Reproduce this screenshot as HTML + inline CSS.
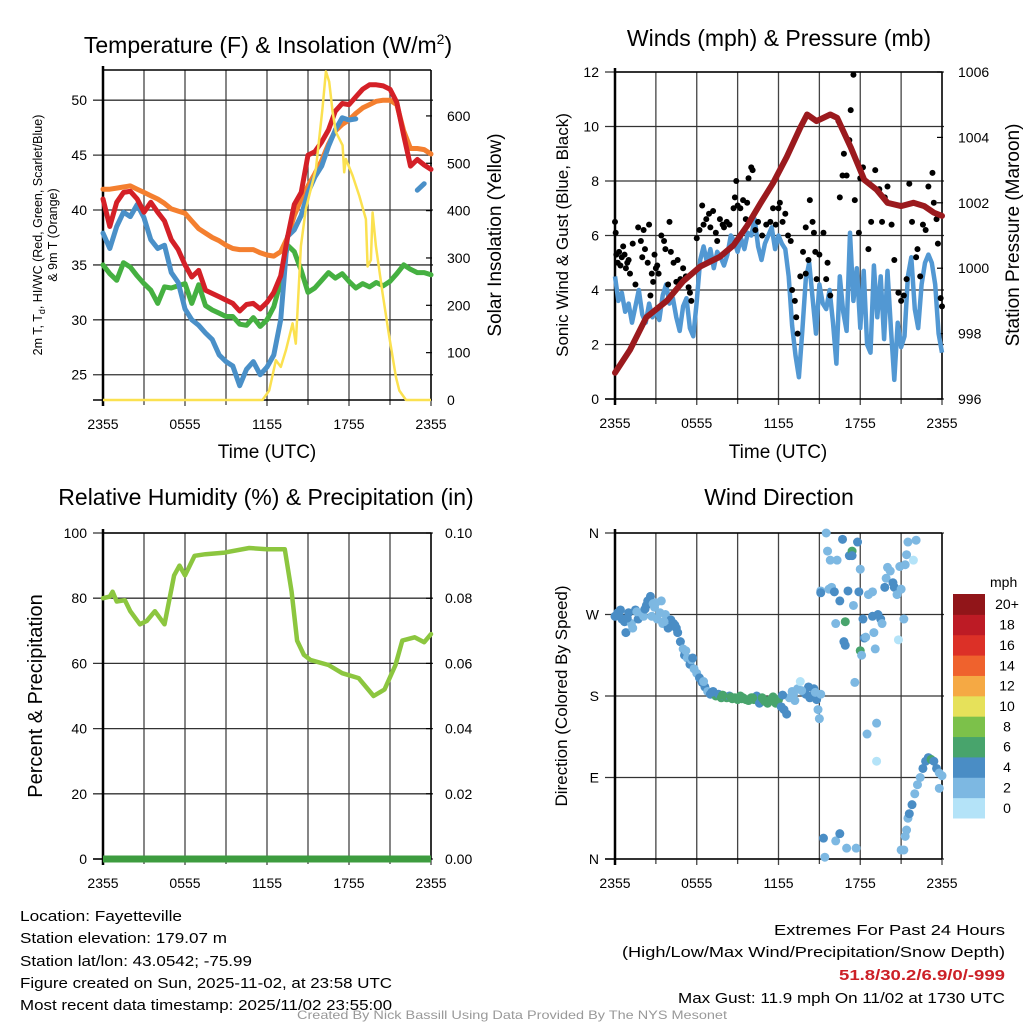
<!DOCTYPE html>
<html><head><meta charset="utf-8"><style>
html,body{margin:0;padding:0;background:#fff;}
svg{display:block;font-family:"Liberation Sans",Arial,sans-serif;}
</style></head><body>
<svg id="fig" width="1024" height="1024" viewBox="0 0 1024 1024" xmlns="http://www.w3.org/2000/svg">
<rect width="1024" height="1024" fill="#fff"/>
<text x="268" y="53" font-size="23" text-anchor="middle">Temperature (F) &amp; Insolation (W/m<tspan dy="-9" font-size="14">2</tspan><tspan dy="9">)</tspan></text>
<text x="779" y="46" font-size="23" text-anchor="middle">Winds (mph) &amp; Pressure (mb)</text>
<text x="266" y="505" font-size="23" text-anchor="middle">Relative Humidity (%) &amp; Precipitation (in)</text>
<text x="779" y="505" font-size="23" text-anchor="middle">Wind Direction</text>

<text transform="translate(42,235) rotate(-90)" font-size="12.5" text-anchor="middle">2m T, T<tspan font-size="9" dy="3">d</tspan><tspan dy="-3">, HI/WC (Red, Green, Scarlet/Blue)</tspan></text>
<text transform="translate(57,235) rotate(-90)" font-size="12.5" text-anchor="middle">&amp; 9m T (Orange)</text>
<text transform="translate(501,235) rotate(-90)" font-size="19" text-anchor="middle">Solar Insolation (Yellow)</text>
<text transform="translate(568,235) rotate(-90)" font-size="17" text-anchor="middle">Sonic Wind &amp; Gust (Blue, Black)</text>
<text transform="translate(1019,235) rotate(-90)" font-size="19" text-anchor="middle">Station Pressure (Maroon)</text>
<text transform="translate(42,696) rotate(-90)" font-size="20" text-anchor="middle">Percent &amp; Precipitation</text>
<text transform="translate(567,696) rotate(-90)" font-size="17" text-anchor="middle">Direction (Colored By Speed)</text>
<text x="267" y="458" font-size="19" text-anchor="middle">Time (UTC)</text>
<text x="778" y="458" font-size="19" text-anchor="middle">Time (UTC)</text>

<g id="panels"></g>

<g font-size="15">
<text x="20" y="921" textLength="162" lengthAdjust="spacingAndGlyphs">Location: Fayetteville</text>
<text x="20" y="943" textLength="207" lengthAdjust="spacingAndGlyphs">Station elevation: 179.07 m</text>
<text x="20" y="966" textLength="232" lengthAdjust="spacingAndGlyphs">Station lat/lon: 43.0542; -75.99</text>
<text x="20" y="988" textLength="372" lengthAdjust="spacingAndGlyphs">Figure created on Sun, 2025-11-02, at 23:58 UTC</text>
<text x="20" y="1010" textLength="372" lengthAdjust="spacingAndGlyphs">Most recent data timestamp: 2025/11/02 23:55:00</text>
</g>
<g font-size="15">
<text x="1005" y="935" text-anchor="end" textLength="231" lengthAdjust="spacingAndGlyphs">Extremes For Past 24 Hours</text>
<text x="1005" y="957" text-anchor="end" textLength="383" lengthAdjust="spacingAndGlyphs">(High/Low/Max Wind/Precipitation/Snow Depth)</text>
<text x="1005" y="980" text-anchor="end" fill="#cc2027" font-weight="bold" textLength="166" lengthAdjust="spacingAndGlyphs">51.8/30.2/6.9/0/-999</text>
<text x="1005" y="1003" text-anchor="end" textLength="327" lengthAdjust="spacingAndGlyphs">Max Gust: 11.9 mph On 11/02 at 1730 UTC</text>
</g>
<text x="512" y="1019" font-size="12" fill="#999" text-anchor="middle" textLength="430" lengthAdjust="spacingAndGlyphs">Created By Nick Bassill Using Data Provided By The NYS Mesonet</text>
</svg>
<script>
// ---------- Temperature panel data (half-hourly, hours since 2355) ----------
const tempRed = [41.0,38.5,40.7,41.6,41.7,41.0,39.8,40.7,39.8,39.0,37.3,36.4,35.0,33.9,34.5,32.7,32.4,32.1,31.8,31.5,30.8,31.4,31.5,31.0,31.6,32.5,34.0,37.5,40.5,41.6,45.0,45.3,46.2,47.3,49.0,49.7,49.6,50.3,51.0,51.4,51.4,51.3,51.0,49.8,46.8,44.0,44.6,44.1,43.7];
const tempOrange = [41.9,41.9,42.0,42.1,42.2,41.9,41.6,41.3,41.0,40.6,40.1,39.9,39.7,39.0,38.3,37.9,37.5,37.2,36.8,36.5,36.4,36.4,36.4,36.1,35.9,35.8,36.2,37.5,39.5,41.0,42.2,43.3,44.5,46.0,47.2,47.8,48.2,48.8,49.3,49.6,49.9,50.0,50.0,49.6,47.2,45.6,45.6,45.5,45.1];
const tempBlue = [37.9,36.5,38.5,39.8,39.4,40.5,39.3,37.3,36.5,36.8,34.3,33.4,31.0,30.0,29.5,28.8,28.2,26.8,26.2,25.8,24.0,25.5,26.2,25.0,25.7,26.8,30.0,37.6,38.2,39.5,41.6,43.0,44.0,45.8,47.3,48.4,48.2,48.3,null,null,null,null,null,null,46.5,null,41.8,42.4,null];
const tempGreen = [35.0,34.2,33.6,35.2,34.8,34.0,33.3,32.7,31.5,33.0,32.9,33.1,33.3,31.5,33.2,31.3,30.9,30.6,30.3,30.3,29.6,29.5,30.2,29.4,30.0,31.2,33.5,36.8,36.2,34.5,32.5,32.9,33.6,34.3,33.8,34.2,33.5,32.9,33.3,33.0,33.4,33.1,33.5,34.2,35.0,34.6,34.3,34.3,34.1];
const solarHours = [0,11.67,12.16,12.65,13.01,13.38,13.87,14.11,14.48,14.84,15.58,16.06,16.31,16.55,16.80,17.04,17.53,17.65,17.77,18.26,18.75,19.24,19.36,19.60,19.73,19.97,20.46,20.95,21.44,21.68,22.17,24];
const solarValues = [0,0,20,84,70,105,162,119,325,403,488,616,694,672,609,566,538,481,509,474,431,382,282,296,396,325,225,133,48,20,0,0];
const tempTicks = [25,30,35,40,45,50];
const solarTicks = [0,100,200,300,400,500,600];
const timeTickHours = [0,6,12,18,24];
const timeTickLabels = ["2355","0555","1155","1755","2355"];

// ---------- Winds panel data ----------
const pressHours = [0,1.1,2.3,3.8,5,6.25,7.7,8.7,9.7,10.7,11.6,12.6,13.6,14.1,14.8,15.8,16.3,17.3,18.3,19.2,20,21,21.9,22.7,23.4,24];
const pressValues = [996.8,997.5,998.5,999.0,999.6,1000.05,1000.35,1000.7,1001.3,1002.0,1002.6,1003.4,1004.3,1004.7,1004.5,1004.7,1004.6,1003.7,1002.7,1002.4,1002.0,1001.9,1002.0,1001.9,1001.7,1001.6];
// sonic wind, quarter-hourly
const windSpeeds = [4.5,3.6,3.9,3.2,3.5,2.8,3.4,4.0,3.1,2.8,3.5,3.0,3.3,2.9,3.8,4.2,3.5,3.7,3.0,2.5,3.4,3.7,2.6,2.3,3.6,5.1,5.6,5.0,5.5,4.8,5.4,5.2,4.9,5.3,6.0,5.8,5.4,5.9,5.5,6.1,6.0,6.6,5.6,5.1,5.7,6.0,6.3,5.5,6.0,5.7,5.5,4.5,2.7,1.6,0.8,2.5,4.4,5.0,3.7,2.4,4.2,3.5,3.3,4.0,2.8,1.3,4.5,3.2,2.5,6.1,3.6,4.8,2.6,4.7,2.0,1.7,4.9,3.0,4.5,2.2,4.7,2.6,0.7,2.8,1.9,2.3,4.5,5.2,3.3,2.6,4.2,5.0,5.3,5.0,4.2,2.4,1.7];
const gustHours = [0,0.05,0.1,0.2,0.3,0.4,0.5,0.6,0.7,0.8,0.9,1.0,1.1,1.3,1.5,1.7,1.9,2.0,2.1,2.2,2.4,2.5,2.6,2.7,2.8,2.9,3.0,3.1,3.2,3.4,3.6,3.7,3.9,4.0,4.1,4.3,4.5,4.6,4.8,5.0,5.2,5.4,5.5,5.6,6.0,6.2,6.4,6.5,6.7,6.9,7.0,7.2,7.4,7.5,7.7,7.9,8.0,8.2,8.4,8.7,8.8,8.9,9.0,9.2,9.4,9.6,9.7,9.8,10.0,10.1,10.3,10.5,10.8,11.1,11.4,11.6,11.8,12.0,12.1,12.3,12.5,12.7,12.9,13.0,13.2,13.3,13.4,13.6,13.8,14.0,14.0,14.2,14.3,14.5,14.6,14.7,14.8,15.0,15.3,15.5,15.6,15.8,16.4,16.5,16.7,16.8,17.0,17.2,17.3,17.5,17.6,17.9,18.0,18.2,18.6,18.8,19.1,19.4,19.6,19.8,20.0,20.3,20.5,20.8,21.0,21.2,21.4,21.6,21.8,22.1,22.2,22.4,22.6,22.8,23.0,23.3,23.4,23.6,23.7,23.9,24.0];
const gustSpeeds = [6.5,6.1,5.3,5.0,5.4,4.9,5.2,5.6,5.3,4.8,5.0,5.1,4.6,5.7,4.2,6.3,5.8,5.2,6.2,5.5,5.0,6.4,3.8,4.6,4.3,5.3,4.8,4.9,4.6,6.0,5.8,5.5,4.2,6.5,5.4,5.0,4.3,5.1,4.4,4.8,4.5,4.1,3.9,3.6,5.9,6.2,7.1,6.4,6.6,6.8,6.3,6.9,6.1,5.8,6.6,6.4,6.3,6.5,6.4,7.0,7.4,8.0,7.1,7.0,7.3,6.6,7.2,8.1,8.5,8.4,6.2,6.5,6.0,6.4,6.5,7.0,6.4,7.0,7.2,6.5,6.8,6.0,5.8,4.0,3.6,3.0,2.4,4.5,5.4,6.3,4.6,5.1,7.3,6.5,6.1,5.4,4.4,5.3,6.1,4.4,5.0,3.8,10.2,7.4,8.2,9.0,8.2,9.5,10.6,11.9,7.3,6.1,8.1,8.5,5.5,6.5,8.4,7.7,6.5,7.4,7.8,6.4,5.1,3.9,3.6,3.8,4.4,7.9,6.5,5.2,5.5,4.5,6.4,6.2,7.8,8.3,7.2,6.6,5.7,3.7,3.4];
const windTicks = [0,2,4,6,8,10,12];
const pressTicks = [996,998,1000,1002,1004,1006];

// ---------- Humidity panel data ----------
const rhHours = [0,0.5,0.7,1,1.6,2,2.7,3.2,3.8,4.5,5.2,5.6,6,6.7,7.5,8.9,10.7,12,13.3,13.8,14.2,14.7,15.2,16.5,17.5,18.7,19.8,20.6,21.4,21.9,22.8,23.5,24];
const rhValues = [80,80.5,82,79,79.4,76,72,73,76,72,87,90,87,93,93.5,94,95.4,95,95,82,67,62.6,61,59.5,57,55.5,50,52,59.5,67,68,66.5,69];
const precipHours = [0,24];
const precipValues = [0,0];
const rhTicks = [0,20,40,60,80,100];
const precipTicks = ["0.00","0.02","0.04","0.06","0.08","0.10"];

// ---------- Wind direction data ----------
const dirHours = [0.0,0.2,0.4,0.5,0.7,0.8,1.0,1.2,1.3,1.5,1.7,1.9,2.1,2.3,2.4,2.6,2.8,2.9,3.1,3.3,3.4,3.5,3.7,3.9,4.1,4.3,4.5,4.6,4.8,5.0,5.1,5.3,5.5,5.6,5.8,6.0,6.2,6.4,6.6,6.8,7.0,7.2,7.4,7.6,7.8,8.0,8.2,8.4,8.6,8.8,9.0,9.2,9.4,9.6,9.8,10.0,10.2,10.4,10.6,10.8,11.0,11.2,11.4,11.6,11.8,12.0,12.2,12.4,12.6,12.8,13.0,13.2,13.4,13.6,13.8,14.0,14.2,14.4,14.6,14.8,14.9,15.0,15.1,15.1,15.1,15.3,15.4,15.5,15.6,15.7,15.8,15.9,16.1,16.2,16.2,16.3,16.5,16.5,16.7,16.8,16.9,16.9,17.0,17.1,17.2,17.4,17.4,17.5,17.6,17.7,17.8,17.9,18.0,18.0,18.1,18.2,18.3,18.4,18.5,18.6,18.9,18.9,19.0,19.1,19.2,19.2,19.3,19.5,19.6,19.8,19.9,20.0,20.2,20.4,20.5,20.7,20.8,21.0,21.2,21.3,21.4,21.5,20.9,21.0,21.2,21.3,21.4,21.5,21.6,21.8,22.0,22.2,22.4,22.6,22.8,23.0,23.2,23.4,23.6,23.8,24.0,23.8,22.1,21.9,0.3,0.9,1.6,2.2,2.7,3.0,3.6,4.4,5.2,5.7,6.5,7.1,7.9,8.5,9.3,10.1,10.9,11.5,12.3,13.1,13.7,14.3,14.7];
const dirDegrees = [268,272,275,265,262,250,272,260,255,275,265,272,268,280,285,290,282,278,265,272,285,260,270,255,264,260,255,250,240,232,225,222,215,220,210,205,200,195,190,185,182,185,180,182,178,180,178,180,177,178,176,180,178,176,175,178,176,180,172,178,174,172,176,179,172,176,168,165,160,178,185,175,188,196,185,182,190,180,188,176,165,155,182,296,294,23,2,360,340,298,330,300,295,20,260,330,28,285,353,240,236,262,12,296,335,340,335,280,195,12,350,295,320,230,225,265,244,245,138,292,295,268,250,232,150,108,270,265,260,300,310,322,318,305,300,292,242,298,265,325,336,350,323,10,10,25,32,45,50,60,72,82,90,100,108,112,110,108,100,95,92,78,352,330,270,266,273,276,268,283,262,258,230,222,196,184,181,179,177,178,176,175,181,182,186,178,184];
const dirSpeeds = [4,4,4,4,4,4,4,3,3,4,4,3,3,4,4,4,3,3,3,3,3,3,3,4,4,4,4,4,4,3,4,3,4,3,3,3,4,4,4,3,4,4,6,4,6,4,6,4,6,6,6,6,6,6,6,6,6,4,4,6,6,6,6,6,6,6,4,4,4,3,3,3,3,1,3,4,4,4,4,4,3,3,3,3,4,4,3,3,3,3,3,2,4,3,3,3,4,4,4,4,4,6,3,4,4,6,4,3,3,3,4,4,3,6,3,4,4,3,3,3,3,4,3,3,3,1,4,4,3,4,3,3,3,4,4,3,1,3,3,3,3,3,3,3,3,3,3,3,4,4,3,3,3,4,4,4,6,4,4,3,3,3,3,1,4,4,3,4,3,3,3,4,3,4,3,4,6,6,6,6,6,6,4,3,3,4,3];
const dirTickDegrees = [0,90,180,270,360];
const dirTickLabels = ["N","E","S","W","N"];
const speedBinLabels = ["0","2","4","6","8","10","12","14","16","18","20+"];
const speedBinColors = ["#b4e3f8","#7db8e2","#4a8dc5","#48a46c","#7cc14a","#e6e15a","#f5a944","#ef622d","#dc3027","#bd1b25","#911519"];

const NS = "http://www.w3.org/2000/svg";
const root = document.getElementById('panels');
function mk(tag, attrs, parent) {
  const e = document.createElementNS(NS, tag);
  for (const k in attrs) e.setAttribute(k, attrs[k]);
  (parent || root).appendChild(e);
  return e;
}
function linScale(d0, d1, r0, r1) { return v => r0 + (v - d0) / (d1 - d0) * (r1 - r0); }

function panelFrame(p, name) {
  const g = mk('g', {});
  
  
  for (let h = 0; h <= 24; h += 3) {
    const x = p.x(h);
    const l = mk('line', {x1: x, x2: x, y1: p.top, y2: p.bot + (h % 6 === 0 ? 6 : 5), stroke: '#444', 'stroke-width': 1.3}, g);
    
    
  }
  timeTickHours.forEach((h, i) => {
    const t = mk('text', {x: p.x(h), y: p.bot + 29, 'font-size': 14, 'text-anchor': 'middle'}, g);
    t.textContent = timeTickLabels[i];
    
    
  });
  return g;
}
function hgrid(p, g, vals, yFn, labels, name) {
  vals.forEach((v, i) => {
    const y = yFn(v);
    const l = mk('line', {x1: p.x0 - 10, x2: p.x1 + 2, y1: y, y2: y, stroke: '#333', 'stroke-width': 1.3}, g);
    
    
    const t = mk('text', {x: p.x0 - 16, y: y + 5, 'font-size': 14, 'text-anchor': 'end'}, g);
    t.textContent = labels ? labels[i] : v;
    
    
  });
}
function rightTicks(p, g, vals, yFn, labels, name, dx) {
  vals.forEach((v, i) => {
    const y = yFn(v);
    mk('line', {x1: p.x1 - 5, x2: p.x1 + 1, y1: y, y2: y, stroke: '#000', 'stroke-width': 1.2}, g);
    const t = mk('text', {x: p.x1 + (dx || 16), y: y + 5, 'font-size': 14, 'text-anchor': 'start'}, g);
    t.textContent = labels ? labels[i] : v;
    
    
  });
}
function axesLines(p, g, name) {
  const a = mk('line', {x1: p.x0, x2: p.x0, y1: p.top - 4, y2: p.bot + 6, stroke: '#000', 'stroke-width': 2.5}, g);
  
  
  mk('line', {x1: p.x1, x2: p.x1, y1: p.top, y2: p.bot, stroke: '#000', 'stroke-width': 1.5}, g);
  mk('line', {x1: p.x0, x2: p.x1, y1: p.top, y2: p.top, stroke: '#000', 'stroke-width': 1.5}, g);
  mk('line', {x1: p.x0 - 10, x2: p.x1, y1: p.bot, y2: p.bot, stroke: '#000', 'stroke-width': 1.5}, g);
}
function pathFrom(xs, ys, xf, yf) {
  let d = '', pen = false;
  for (let i = 0; i < xs.length; i++) {
    if (ys[i] === null) { pen = false; continue; }
    d += (pen ? 'L' : 'M') + xf(xs[i]).toFixed(1) + ' ' + yf(ys[i]).toFixed(1);
    pen = true;
  }
  return d;
}

// ===== Panel 1: Temperature =====
(function () {
  const p = {x0: 103, x1: 431, top: 70, bot: 400};
  p.x = linScale(0, 24, p.x0, p.x1);
  const yT = linScale(22.7, 52.75, p.bot, p.top);
  const yS = linScale(0, 697, p.bot, p.top);
  const g = panelFrame(p, 'temperature');
  hgrid(p, g, tempTicks, yT, null, 'temperature');
  rightTicks(p, g, solarTicks, yS, null, 'solar', 16);
  const half = tempRed.map((_, i) => i * 0.5);
  const series = [
    [tempOrange, '#f47f2f', 'orange-9m-temp-line'],
    [tempGreen, '#45b041', 'green-dewpoint-line'],
    [tempBlue, '#4a90c8', 'blue-windchill-line'],
    [tempRed, '#d42027', 'red-2m-temp-line']
  ];
  series.forEach(s => {
    const e = mk('path', {d: pathFrom(half, s[0], p.x, yT), fill: 'none', stroke: s[1], 'stroke-width': 5, 'stroke-linejoin': 'round', 'stroke-linecap': 'round'});
    
    
  });
  const sl = mk('path', {d: pathFrom(solarHours, solarValues, p.x, yS), fill: 'none', stroke: '#fbe150', 'stroke-width': 2.5, 'stroke-linejoin': 'round'});
  
  
  axesLines(p, g, 'temperature');
})();

// ===== Panel 2: Winds & Pressure =====
(function () {
  const p = {x0: 615, x1: 942, top: 72, bot: 399};
  p.x = linScale(0, 24, p.x0, p.x1);
  const yW = linScale(0, 12, p.bot, p.top);
  const yP = linScale(996, 1006, p.bot, p.top);
  const g = panelFrame(p, 'winds');
  hgrid(p, g, windTicks, yW, null, 'winds');
  rightTicks(p, g, pressTicks, yP, null, 'pressure', 16);
  const windHours = windSpeeds.map((_, i) => i * 0.25);
  const wl = mk('path', {d: pathFrom(windHours, windSpeeds, p.x, yW), fill: 'none', stroke: '#5298d3', 'stroke-width': 4.5, 'stroke-linejoin': 'round'});
  
  
  gustHours.forEach((h, i) => {
    const c = mk('circle', {cx: p.x(h), cy: yW(gustSpeeds[i]), r: 3, fill: '#000'});
    
    
  });
  const pl = mk('path', {d: pathFrom(pressHours, pressValues, p.x, yP), fill: 'none', stroke: '#9b1a1e', 'stroke-width': 6, 'stroke-linejoin': 'round', 'stroke-linecap': 'round'});
  
  
  axesLines(p, g, 'winds');
})();

// ===== Panel 3: Humidity =====
(function () {
  const p = {x0: 103, x1: 431, top: 533, bot: 859};
  p.x = linScale(0, 24, p.x0, p.x1);
  const yR = linScale(0, 100, p.bot, p.top);
  const yPr = linScale(0, 0.1, p.bot, p.top);
  const g = panelFrame(p, 'humidity');
  hgrid(p, g, rhTicks, yR, null, 'humidity');
  rightTicks(p, g, rhTicks, yR, precipTicks, 'precip', 14);
  const rl = mk('path', {d: pathFrom(rhHours, rhValues, p.x, yR), fill: 'none', stroke: '#8cc63f', 'stroke-width': 4.5, 'stroke-linejoin': 'round', 'stroke-linecap': 'round'});
  
  
  const pr = mk('path', {d: pathFrom(precipHours, precipValues, p.x, yPr), fill: 'none', stroke: '#3d9c3f', 'stroke-width': 7});
  
  
  axesLines(p, g, 'humidity');
})();

// ===== Panel 4: Wind Direction =====
(function () {
  const p = {x0: 615, x1: 942, top: 533, bot: 859};
  p.x = linScale(0, 24, p.x0, p.x1);
  const yD = linScale(0, 360, p.bot, p.top);
  const g = panelFrame(p, 'direction');
  hgrid(p, g, dirTickDegrees, yD, dirTickLabels, 'direction');
  dirHours.forEach((h, i) => {
    const bin = Math.min(10, Math.floor(dirSpeeds[i] / 2));
    const c = mk('circle', {cx: p.x(h), cy: yD(dirDegrees[i]), r: 4.5, fill: speedBinColors[bin]});
    
    
  });
  axesLines(p, g, 'direction');
  const cb = mk('g', {});
  
  
  const cbTop = 594, cbH = 224 / 11;
  speedBinLabels.forEach((lab, i) => {
    const j = speedBinLabels.length - 1 - i;
    const y = cbTop + j * cbH;
    const r = mk('rect', {x: 953, y: y, width: 32, height: cbH + 0.5, fill: speedBinColors[i]}, cb);
    
    
    const t = mk('text', {x: 1007, y: y + cbH / 2 + 5, 'font-size': 14, 'text-anchor': 'middle'}, cb);
    t.textContent = lab;
    
    
  });
  const u = mk('text', {x: 990, y: 587, 'font-size': 14}, cb);
  u.textContent = 'mph';
  
  
})();
</script>
</body></html>
